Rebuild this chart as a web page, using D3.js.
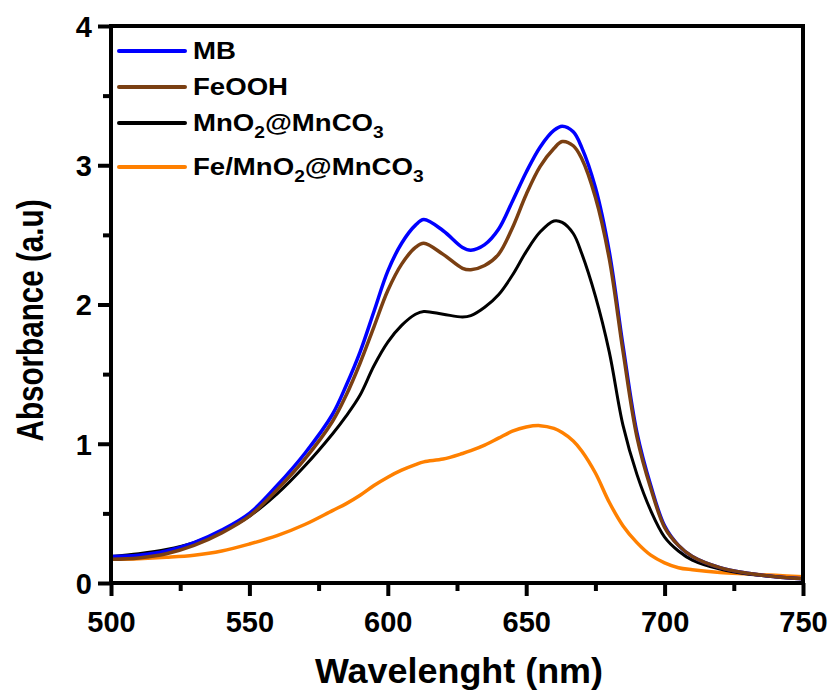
<!DOCTYPE html>
<html lang="en">

<head>
    <meta charset="UTF-8">
    <title>Absorbance spectra</title>
    <script src="https://d3js.org/d3.v7.min.js"></script>
    <style>
        body {
            margin: 0;
            background: #fff;
        }

        svg {
            display: block;
        }

        text {
            font-family: "Liberation Sans", Arial, sans-serif;
            font-weight: bold;
            fill: #000;
        }
    </style>
</head>

<body>
    <svg width="832" height="691"></svg>

    <script>
        // wavelength grid (nm) shared by every spectrum
        const wavelengths = [500, 510, 520, 530, 540, 550, 560, 570, 580, 585, 590, 595, 600, 605, 610, 613, 620, 627, 630,
            635, 640, 645, 650, 655, 660, 663, 667, 670, 675, 680, 685, 690, 695, 700, 705, 710, 720, 730, 740, 750];

        const mb = [0.19, 0.20, 0.23, 0.29, 0.38, 0.50, 0.70, 0.93, 1.21, 1.42, 1.66, 1.95, 2.24, 2.44, 2.57, 2.61, 2.53, 2.41, 2.39,
            2.43, 2.54, 2.74, 2.95, 3.13, 3.25, 3.28, 3.24, 3.13, 2.84, 2.38, 1.70, 1.08, 0.70, 0.41, 0.27, 0.19, 0.11, 0.07, 0.045, 0.03];

        const feooh = [0.17, 0.18, 0.21, 0.27, 0.36, 0.48, 0.67, 0.89, 1.16, 1.35, 1.58, 1.84, 2.10, 2.29, 2.41, 2.44, 2.36, 2.26, 2.25,
            2.28, 2.36, 2.55, 2.79, 2.99, 3.12, 3.17, 3.14, 3.05, 2.77, 2.33, 1.66, 1.05, 0.68, 0.40, 0.27, 0.19, 0.11, 0.07, 0.045, 0.03];

        const mno2 = [0.19, 0.21, 0.24, 0.29, 0.37, 0.48, 0.64, 0.84, 1.07, 1.20, 1.35, 1.56, 1.73, 1.85, 1.93, 1.95, 1.93, 1.91, 1.92,
            1.98, 2.07, 2.21, 2.38, 2.52, 2.60, 2.59, 2.51, 2.37, 2.06, 1.66, 1.13, 0.78, 0.52, 0.33, 0.23, 0.165, 0.10, 0.065, 0.045, 0.03];

        const femno2 = [0.17, 0.175, 0.185, 0.20, 0.23, 0.28, 0.34, 0.42, 0.52, 0.57, 0.63, 0.70, 0.76, 0.81, 0.85, 0.87, 0.89, 0.93, 0.95,
            0.99, 1.04, 1.09, 1.12, 1.13, 1.11, 1.08, 1.02, 0.95, 0.79, 0.58, 0.41, 0.29, 0.20, 0.145, 0.11, 0.095, 0.075, 0.065, 0.055, 0.045];

        const xTicks = [500, 550, 600, 650, 700, 750];
        const yTicks = [0, 1, 2, 3, 4];

        const series = [
            { name: "MB", values: mb, color: "#0000ff", width: 3.5 },
            { name: "FeOOH", values: feooh, color: "#7a3f12", width: 3.5 },
            { name: "MnO2@MnCO3", values: mno2, color: "#000000", width: 3 },
            { name: "Fe/MnO2@MnCO3", values: femno2, color: "#ff8000", width: 3.5 }
        ];

        const margin = { left: 111, top: 26, right: 29, bottom: 108 };
        const width = 832 - margin.left - margin.right;
        const height = 691 - margin.top - margin.bottom;

        const svg = d3.select("svg");
        const g = svg.append("g").attr("transform", `translate(${margin.left},${margin.top})`);

        const x = d3.scaleLinear().domain([500, 750]).range([0, width]);
        const y = d3.scaleLinear().domain([0, 4]).range([height, 0]);

        // curves
        const line = d3.line()
            .x((d, i) => x(wavelengths[i]))
            .y(d => y(d))
            .curve(d3.curveCatmullRom.alpha(0.5));

        // draw orange first so the others sit on top, as in the figure
        [series[3], series[2], series[0], series[1]].forEach(s => {
            g.append("path")
                .attr("d", line(s.values))
                .attr("fill", "none")
                .attr("stroke", s.color)
                .attr("stroke-width", s.width)
                .attr("stroke-linejoin", "round");
        });

        // frame
        g.append("rect")
            .attr("width", width)
            .attr("height", height)
            .attr("fill", "none")
            .attr("stroke", "#000")
            .attr("stroke-width", 4);

        // x axis, major + minor ticks
        const xAxis = g.append("g")
            .attr("transform", `translate(0,${height})`)
            .call(d3.axisBottom(x).tickValues(xTicks).tickSize(13).tickSizeOuter(0).tickPadding(10));
        g.append("g")
            .attr("transform", `translate(0,${height})`)
            .call(d3.axisBottom(x).tickValues(d3.range(525, 750, 50)).tickSize(8).tickFormat(""));

        // y axis, major + minor ticks
        const yAxis = g.append("g")
            .call(d3.axisLeft(y).tickValues(yTicks).tickFormat(d3.format("d")).tickSize(13).tickSizeOuter(0).tickPadding(6));
        g.append("g")
            .call(d3.axisLeft(y).tickValues(d3.range(0.5, 4, 1)).tickSize(8).tickFormat(""));

        g.selectAll(".domain").remove();
        g.selectAll(".tick line").attr("stroke", "#000").attr("stroke-width", 4);
        g.selectAll(".tick text").attr("font-size", 29).attr("fill", "#000")
            .style("font-family", "'Liberation Sans', Arial, sans-serif").style("font-weight", "bold");
        xAxis.selectAll(".tick text").attr("dy", "0.9em");
        yAxis.selectAll(".tick text").attr("dy", "0.36em");

        // axis titles
        svg.append("text")
            .attr("x", margin.left + width / 2 + 2)
            .attr("y", 683)
            .attr("text-anchor", "middle")
            .attr("font-size", 35)
            .attr("textLength", 288)
            .attr("lengthAdjust", "spacingAndGlyphs")
            .text("Wavelenght (nm)");

        svg.append("text")
            .attr("transform", `translate(43,${margin.top + height / 2 + 16}) rotate(-90)`)
            .attr("text-anchor", "middle")
            .attr("font-size", 37)
            .attr("textLength", 242)
            .attr("lengthAdjust", "spacingAndGlyphs")
            .text("Absorbance (a.u)");

        // legend
        const legendY = [51, 87, 123, 167];
        const legendLabels = [
            [["MB", false]],
            [["FeOOH", false]],
            [["MnO", false], ["2", true], ["@MnCO", false], ["3", true]],
            [["Fe/MnO", false], ["2", true], ["@MnCO", false], ["3", true]]
        ];

        const legend = svg.append("g");
        series.forEach((s, i) => {
            legend.append("line")
                .attr("x1", 119).attr("x2", 185)
                .attr("y1", legendY[i]).attr("y2", legendY[i])
                .attr("stroke", s.color)
                .attr("stroke-width", 4)
                .attr("stroke-linecap", "round");

            const t = legend.append("text")
                .attr("transform", `translate(193,${legendY[i] + 8}) scale(1.2,1)`)
                .attr("font-size", 23);
            legendLabels[i].forEach(([part, sub], k) => {
                t.append("tspan")
                    .attr("font-size", sub ? 16 : 23)
                    .attr("dy", sub ? 7 : (k > 0 ? -7 : 0))
                    .text(part);
            });
        });
    </script>
</body>

</html>
